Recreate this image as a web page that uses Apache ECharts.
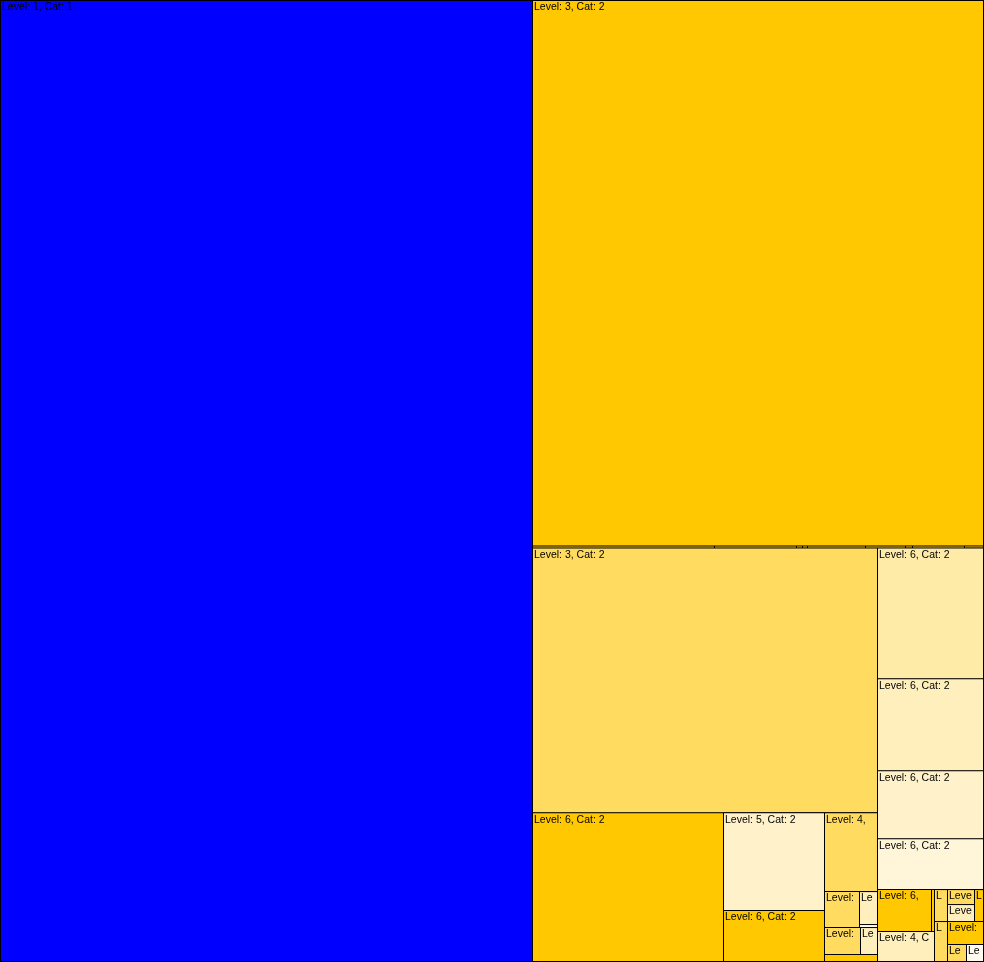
<!DOCTYPE html>
<html>
<head>
<meta charset="utf-8">
<title>Treemap</title>
<script src="https://cdn.jsdelivr.net/npm/echarts@6/dist/echarts.min.js"></script>
<style>
  html, body { margin: 0; padding: 0; background: #fff; }
  #chart { width: 984px; height: 962px; }
</style>
</head>
<body>
<div id="chart"></div>
<script>
// leaves, by index
const leafNames = [
  'Level: 1, Cat: 1', 'Level: 3, Cat: 2',
  '', '', '', '', '', '', '', '', '',
  'Level: 3, Cat: 2',
  'Level: 6, Cat: 2', 'Level: 6, Cat: 2', 'Level: 6, Cat: 2', 'Level: 6, Cat: 2',
  'Level: 6, Cat: 2', 'Level: 5, Cat: 2', 'Level: 6, Cat: 2', 'Level: 4, Cat: 2',
  'Level: 6, Cat: 2', 'Level: 6, Cat: 2', '', 'Level: 6, Cat: 2', 'Level: 6, Cat: 2',
  'Level: 5, Cat: 2', 'Level: 6, Cat: 2', '', 'Level: 4, Cat: 2',
  'Level: 5, Cat: 2', 'Level: 6, Cat: 2', 'Level: 6, Cat: 2', 'Level: 5, Cat: 2',
  'Level: 5, Cat: 2', 'Level: 6, Cat: 2', 'Level: 6, Cat: 2', 'Level: 5, Cat: 2'
]
const leafValues = [
  511784, 246246,
  364, 164, 12, 10, 116, 80, 14, 104, 38,
  91425,
  13886, 9752, 7208, 5406,
  28459, 9898, 5151, 4187,
  1260, 594, 54, 972, 459,
  371, 2268, 126, 1710,
  416, 405, 459, 288,
  520, 828, 323, 289
]
const leafShades = [
  'blue', 'dark',
  'dark', 'dark', 'dark', 'dark', 'dark', 'dark', 'dark', 'dark', 'dark',
  'mid',
  'light1', 'light2', 'light3', 'light4',
  'dark', 'light3', 'dark', 'mid',
  'mid', 'light2', 'pale', 'mid', 'light2',
  'dark', 'dark', 'dark', 'light2',
  'mid', 'mid', 'light2', 'dark',
  'mid', 'dark', 'mid', 'pale'
]
// nesting of the leaf indices (each inner array is a group)
const nesting = [
  0,
  [
    [1, [2, 3, 4, 5, 6, 7, 8, 9, 10]],
    [
      [11, [16, [[17, 18], [19, [[[20, [21, 22]], [23, 24]], 25]]]]],
      [12, [13, [14, [15, [
        [[26, 27], 28],
        [[[29, [30, 31]], 32], [33, [34, [35, 36]]]]
      ]]]]]
    ]
  ]
]

const palette = {
  blue: '#0000ff',
  dark: '#ffc800',
  mid: '#ffdc5f',
  light1: '#ffeba8',
  light2: '#ffefbc',
  light3: '#fff2ca',
  light4: '#fff5d8',
  pale: '#fffbef'
}

function buildNode(n) {
  if (Array.isArray(n)) {
    return {
      name: '',
      itemStyle: { borderWidth: 0, gapWidth: 0, borderColor: '#000' },
      children: n.map(buildNode)
    }
  }
  return {
    name: leafNames[n],
    value: leafValues[n],
    itemStyle: { color: palette[leafShades[n]], borderWidth: 0.5, borderColor: '#000' }
  }
}

const chart = echarts.init(document.getElementById('chart'))
chart.setOption({
  animation: false,
  series: [{
    type: 'treemap',
    left: 0,
    top: 0,
    right: 0,
    bottom: 0,
    sort: false,
    squareRatio: 1,
    roam: false,
    nodeClick: false,
    visibleMin: 1,
    breadcrumb: { show: false },
    itemStyle: { borderWidth: 0, gapWidth: 0, borderColor: '#000' },
    levels: [
      { itemStyle: { borderWidth: 0.5, borderColor: '#000', gapWidth: 0 } }
    ],
    label: {
      show: true,
      position: 'insideTopLeft',
      distance: 0,
      padding: [1, 0, 0, 1],
      color: '#000',
      fontSize: 10.5,
      fontFamily: 'Liberation Sans',
      overflow: 'truncate',
      ellipsis: ''
    },
    upperLabel: { show: false },
    data: nesting.map(buildNode)
  }]
})
</script>
</body>
</html>
